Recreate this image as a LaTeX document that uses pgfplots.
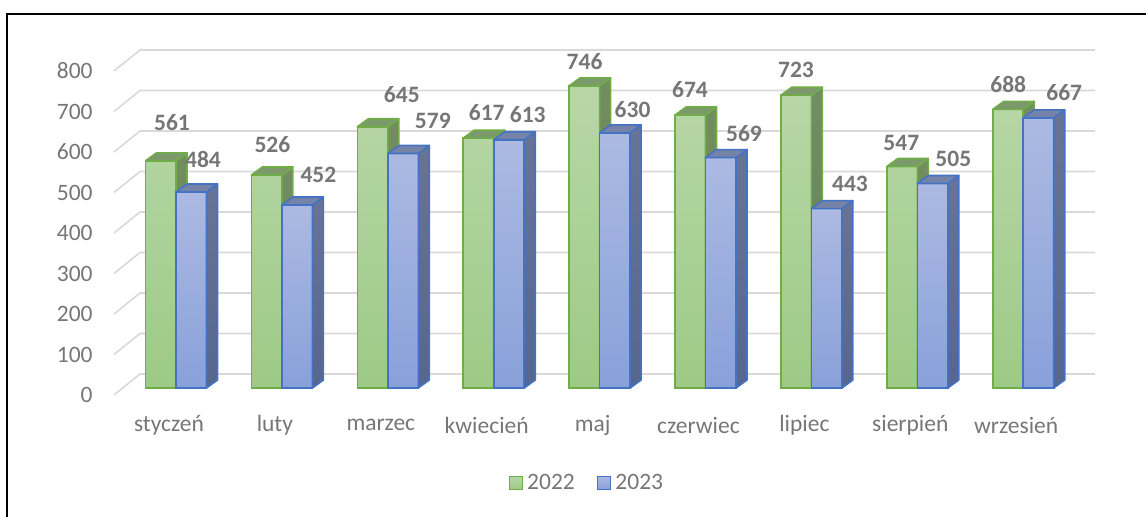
\documentclass[border=0pt]{standalone}
\usepackage{fontspec}
\setmainfont{Carlito}
\usepackage{pgfplots}
\pgfplotsset{compat=1.18}
\usepackage{pgfplotstable}

\definecolor{gline}{RGB}{112,173,71}
\definecolor{gtopF}{RGB}{184,215,168}
\definecolor{gbotF}{RGB}{157,202,134}
\definecolor{gsideT}{RGB}{114,142,96}
\definecolor{gsideB}{RGB}{102,130,84}
\definecolor{gtopc}{RGB}{124,153,107}
\definecolor{bline}{RGB}{68,114,196}
\definecolor{btopF}{RGB}{172,186,226}
\definecolor{bbotF}{RGB}{137,160,218}
\definecolor{bsideT}{RGB}{104,116,150}
\definecolor{bsideB}{RGB}{86,102,142}
\definecolor{btopc}{RGB}{118,131,168}
\definecolor{labc}{RGB}{118,118,118}
\definecolor{gridc}{RGB}{217,217,217}

\pgfplotstableread{
x y dx dy
0 561 -4 38.3
1 526 -9.5 30
2 645 14 32.3
3 617 -7 25.6
4 746 -15 24.4
5 674 -15.5 25
6 723 -15.4 25.2
7 547 -16 24
8 688 -15 24.4
}\greendata

\pgfplotstableread{
x y dx dy
0 484 27 32.5
1 452 36.5 29.9
2 579 45 33
3 613 34 24.7
4 630 33 23.4
5 569 38.5 24.1
6 443 38.6 24.6
7 505 36 24.5
8 667 41 24.9
}\bluedata

\pgfdeclareplotmark{g3d}{%
  \pgfmathsetmacro\hh{\val*0.2025}%
  \path[top color=gsideT, bottom color=gsideB, draw=gline, line width=0.8pt, line join=round]
    (0pt,0pt) -- (5.5pt,4pt) -- (5.5pt,4pt-\hh pt) -- (0pt,-\hh pt) -- cycle;
  \path[fill=gtopc, draw=gline, line width=0.8pt, line join=round]
    (-15.25pt,0pt) -- (0pt,0pt) -- (5.5pt,4pt) -- (-9.75pt,4pt) -- cycle;
}
\pgfdeclareplotmark{b3d}{%
  \pgfmathsetmacro\hh{\val*0.2025}%
  \path[top color=btopF, bottom color=bbotF, draw=bline, line width=0.8pt, line join=round]
    (0pt,0pt) rectangle (15.25pt,-\hh pt);
  \path[top color=bsideT, bottom color=bsideB, draw=bline, line width=0.8pt, line join=round]
    (15.25pt,0pt) -- (20.75pt,4pt) -- (20.75pt,4pt-\hh pt) -- (15.25pt,-\hh pt) -- cycle;
  \path[fill=btopc, draw=bline, line width=0.8pt, line join=round]
    (0pt,0pt) -- (15.25pt,0pt) -- (20.75pt,4pt) -- (5.5pt,4pt) -- cycle;
}

\begin{document}
\begin{tikzpicture}
\path[use as bounding box] (0pt,0pt) rectangle (573pt,-258pt);
\draw[line width=1pt] (3.5pt,-260pt) -- (3.5pt,-7pt) -- (575pt,-7pt);
\begin{axis}[
  at={(57pt,-194pt)}, anchor=south west,
  x=52.95pt, y=0.2025pt,
  xmin=-0.5855, xmax=8.678, ymin=0, ymax=800,
  clip=false,
  axis line style={draw=none},
  tick style={draw=none},
  major tick length=0pt,
  /pgf/number format/assume math mode=true,
  ytick={0,100,200,300,400,500,600,700,800},
  xtick={0,1,2,3,4,5,6,7,8},
  xticklabels={styczeń,luty,marzec,kwiecień,maj,czerwiec,lipiec,sierpień,wrzesień},
  tick label style={font=\fontsize{11.75}{14}\selectfont, text=labc},
  yticklabel style={anchor=east, inner sep=0pt, xshift=-10.5pt, yshift=-3.5pt},
  xticklabel style={anchor=center, inner sep=0pt, yshift=-18.5pt, xshift=-3.5pt},
  legend style={at={(0.483,-0.293)}, anchor=center, draw=none, fill=none,
    legend columns=-1, font=\fontsize{11.75}{14}\selectfont, text=labc,
    /tikz/every even column/.append style={column sep=9pt}},
  nodes near coords style={font=\fontsize{11.75}{14}\selectfont\bfseries, text=labc, anchor=center, inner sep=0pt},
]
\pgfplotsinvokeforeach{0,100,200,300,400,500,600,700,800}{
  \draw[gridc, line width=0.8pt] ([yshift=-3.5pt]axis cs:-0.5855,#1) -- ([yshift=7pt]axis cs:-0.34,#1) -- ([yshift=7pt]axis cs:8.678,#1);
}

% 2022 front faces
\addplot[ybar, bar width=15.25pt, bar shift=-7.625pt, draw=gline, line width=0.8pt,
  top color=gtopF, bottom color=gbotF,
  legend image code/.code={\draw[draw=gline, line width=0.8pt, top color=gtopF, bottom color=gbotF] (0pt,-3.25pt) rectangle (6.5pt,3.25pt);}]
  table[x=x, y=y] {\greendata};
\addlegendentry{2022}
% 2022 side and top faces + labels
\addplot[forget plot, only marks, mark=g3d,
  visualization depends on={\thisrow{y} \as \val},
  visualization depends on={\thisrow{dx} \as \dx},
  visualization depends on={\thisrow{dy} \as \dy},
  nodes near coords,
  every node near coord/.append style={xshift=\dx*0.5pt, yshift=\dy*0.5pt},
] table[x=x, y=y] {\greendata};

% 2023 front faces
\addplot[ybar, bar width=15.25pt, bar shift=7.625pt, draw=bline, line width=0.8pt,
  top color=btopF, bottom color=bbotF,
  legend image code/.code={\draw[draw=bline, line width=0.8pt, top color=btopF, bottom color=bbotF] (0pt,-3.25pt) rectangle (6.5pt,3.25pt);}]
  table[x=x, y=y] {\bluedata};
\addlegendentry{2023}
% 2023 front (redrawn above 2022 sides), side and top faces + labels
\addplot[forget plot, only marks, mark=b3d,
  visualization depends on={\thisrow{y} \as \val},
  visualization depends on={\thisrow{dx} \as \dx},
  visualization depends on={\thisrow{dy} \as \dy},
  nodes near coords,
  every node near coord/.append style={xshift=\dx*0.5pt, yshift=\dy*0.5pt},
] table[x=x, y=y] {\bluedata};
\end{axis}
\end{tikzpicture}
\end{document}
